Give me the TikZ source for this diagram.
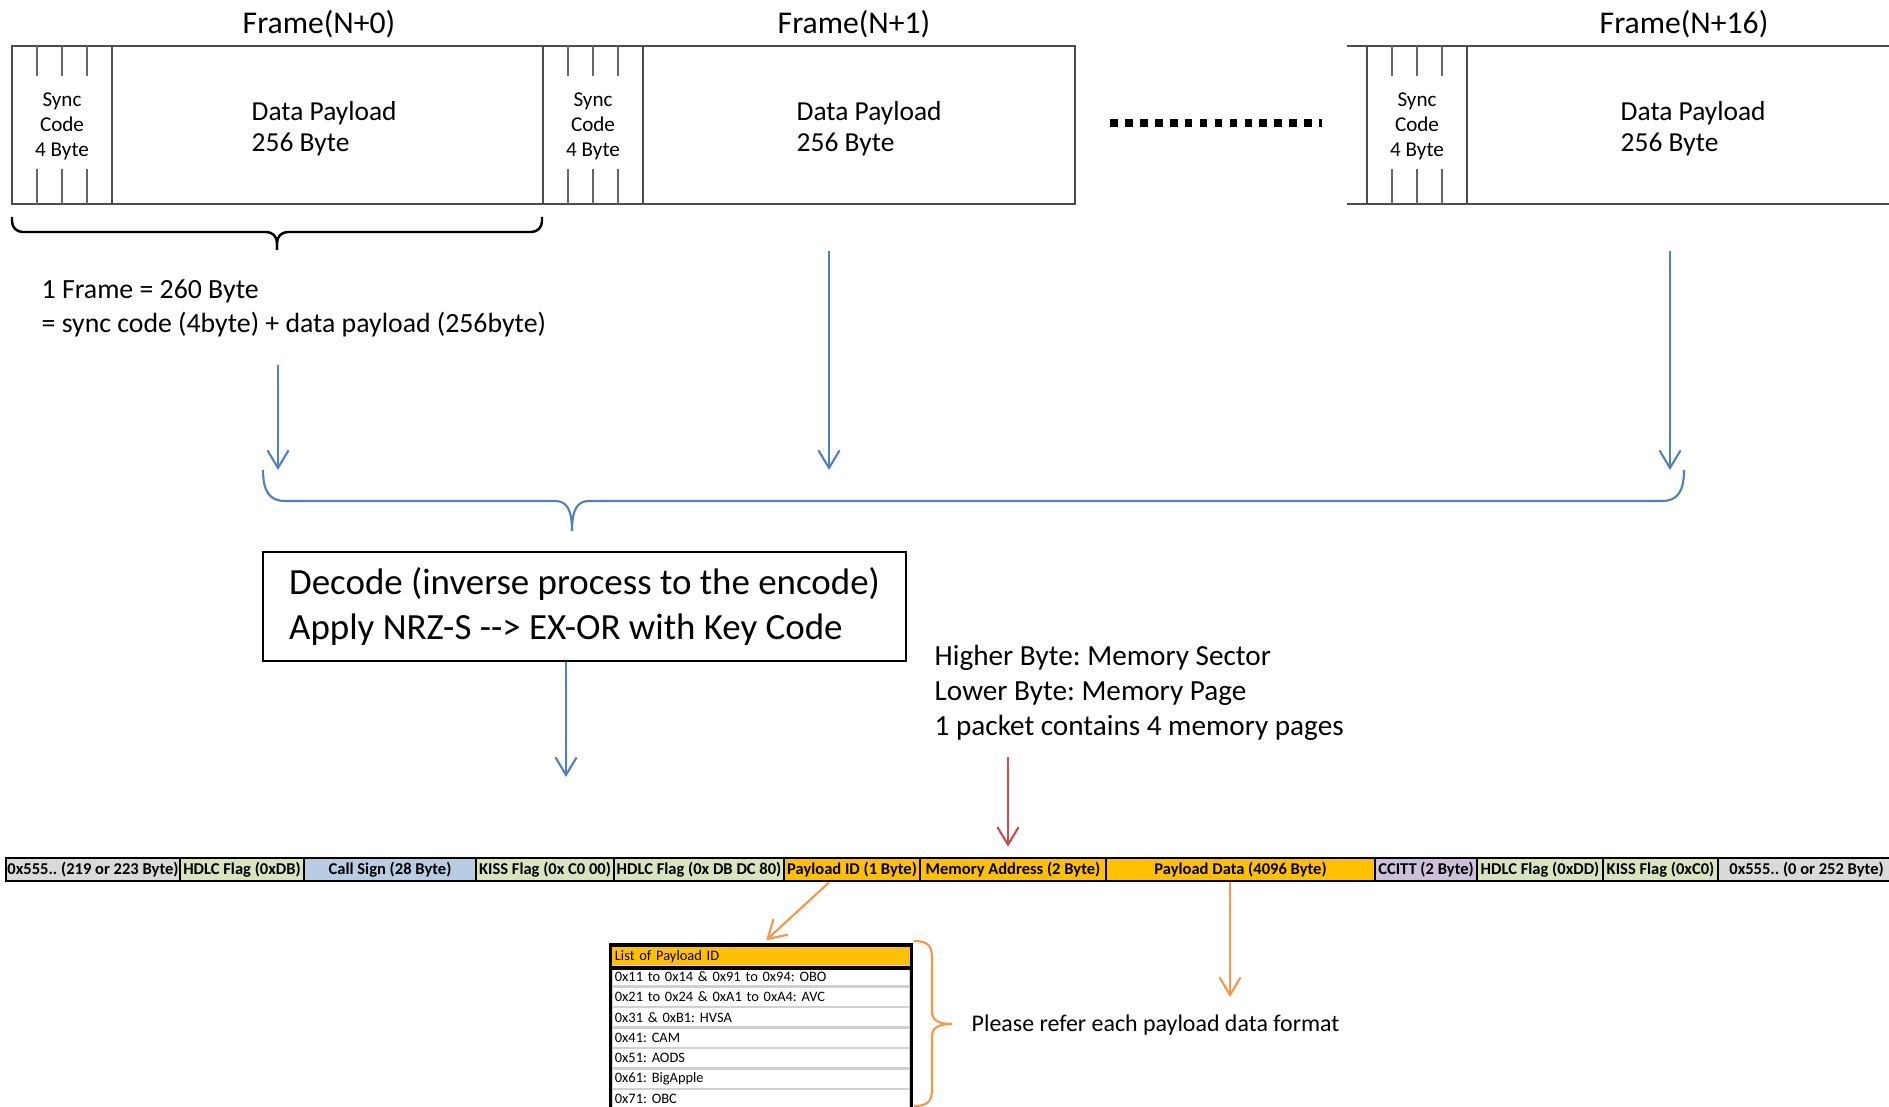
\documentclass[tikz,border=0pt]{standalone}
\usepackage{fontspec}
\setmainfont{Carlito}
\usetikzlibrary{arrows.meta}
\tikzset{>={Straight Barb[length=5pt,width=6pt]}}
\definecolor{cgray}{gray}{.85}
\definecolor{cgrn}{HTML}{D8E4BC}
\definecolor{cblu}{HTML}{B8CCE4}
\definecolor{cgold}{HTML}{FFC000}
\definecolor{cpur}{HTML}{CCC0DA}
\definecolor{carr}{HTML}{4F81BD}
\definecolor{cred}{HTML}{C0504D}
\definecolor{corg}{HTML}{F79646}
\newcommand*{\fs}[2]{\fontsize{#1}{#2}\selectfont}
\frenchspacing

\begin{document}
\begin{tikzpicture}[x=0.01cm, y=-0.01cm,
    frm/.style={draw=black!70, line width=0.45pt},
    tick/.style={draw=black!60, line width=0.4pt},
    txt/.style={inner sep=0pt},
    blu/.style={draw=carr, line width=0.6pt},
    cell/.style={draw, line width=0.8pt, minimum height=0.23cm, inner sep=0pt, font=\bfseries\fs{4.7}{5}},
    pidrow/.style={draw=black!18, line width=0.7pt, text width=2.92cm, inner xsep=0.03cm, inner ysep=0pt, minimum height=0.205cm, align=left, font=\fs{4.1}{5}}]
    \useasboundingbox (0,0) rectangle (1889,1107);
    \clip (0,0) rectangle (1889,1107);

    % frames
    \node (fr0) at (319,24) {\fs{9}{10}Frame(N+0)};
    \node (fr1) at (854,24) {\fs{9}{10}Frame(N+1)};
    \node (fr16) at (1684,24) {\fs{9}{10}Frame(N+16)};
    \draw[frm] (12,46) rectangle (1075,204);
    \draw[frm] (112,46) -- (112,204) (543,46) -- (543,204) (643,46) -- (643,204);
    \draw[frm] (1347,46) -- (1889,46) (1347,204) -- (1889,204) (1367,46) -- (1367,204) (1467,46) -- (1467,204);
    \foreach \x in {12, 543, 1367}
        \foreach \d in {25, 50, 75}
            \draw[tick] (\x+\d,46) -- (\x+\d,76) (\x+\d,169) -- (\x+\d,204);
    \foreach \x/\n/\p in {12/0/251, 543/1/796, 1367/16/1620} {
        \node[txt, align=center, font=\fs{6}{7.1}] (sync\n) at (\x+50,126) {Sync\\Code\\4 Byte};
        \node[txt, anchor=west, align=left, font=\fs{7.8}{8.9}] (data\n) at (\p,129) {Data Payload\\256 Byte};
    }
    \draw[line width=2.2pt, dash pattern=on 2.2pt off 2.05pt] (1110,123) -- (1322,123);

    % one frame
    \draw[line width=0.7pt, rounded corners=3pt] (12,217) -- (12,232) -- (277,232) -- (277,250);
    \draw[line width=0.7pt, rounded corners=3pt] (542,217) -- (542,232) -- (277,232) -- (277,250);
    \node[txt, anchor=west, align=left, font=\fs{7.9}{9.7}] (fsize) at (41,308)
        {1 Frame = 260 Byte\\= sync code (4byte) + data payload (256byte)};

    \coordinate (a0) at (278,365);
    \coordinate (a1) at (829,251);
    \coordinate (a2) at (1670,251);
    \coordinate (br0) at (263,470);
    \coordinate (br1) at (1684,470);
    \coordinate (brt) at (572,531);
    \foreach \a in {a0, a1, a2}
        \draw[blu, ->] (\a) -- (\a |- br0);
    \draw[blu] (br0) .. controls (263,492) and (270,501) .. (285,501) -- (555,501)
        .. controls (567,501) and (572,510) .. (brt);
    \draw[blu] (br1) .. controls (1684,492) and (1677,501) .. (1662,501) -- (589,501)
        .. controls (577,501) and (572,510) .. (brt);

    % decode
    \node[draw, line width=0.45pt, align=left, minimum width=182.9pt, minimum height=31pt,
        font=\fs{10.5}{13}] (decode) at (584.5,606.5)
        {Decode (inverse process to the encode)\\Apply NRZ-S \mbox{-}\mbox{-}> EX-OR with Key Code};
    \coordinate (dout) at (566,777);
    \draw[blu, ->] (decode.south -| dout) -- (dout);

    \node[txt, anchor=west, align=left, font=\fs{8.3}{10}] (memnote) at (934,693)
        {Higher Byte: Memory Sector\\Lower Byte: Memory Page\\1 packet contains 4 memory pages};

    % packet
    \foreach \l/\r/\col/\t [count=\i] in {
        6/180/cgray/{0x555.. (219 or 223 Byte)},
        180/304/cgrn/{HDLC Flag (0xDB)},
        304/476/cblu/{Call Sign (28 Byte)},
        476/614/cgrn/{KISS Flag (0x C0 00)},
        614/784/cgrn/{HDLC Flag (0x DB DC 80)},
        784/920/cgold/{Payload ID (1 Byte)},
        920/1106/cgold/{Memory Address (2 Byte)},
        1106/1375/cgold/{Payload Data (4096 Byte)},
        1375/1477/cpur/{CCITT (2 Byte)},
        1477/1603/cgrn/{HDLC Flag (0xDD)},
        1603/1718/cgrn/{KISS Flag (0xC0)},
        1718/1895/cgray/{0x555.. (0 or 252 Byte)}}
        \node[cell, fill=\col, minimum width={(\r-\l)*0.01cm}] (c\i) at ({(\l+\r)/2},869.5) {\t};

    \coordinate (mtop) at (1008,757);
    \draw[draw=cred, line width=0.6pt, ->, shorten >=2.8pt] (mtop) -- (mtop |- c7.north);

    % payload id list
    \node[pidrow, draw=none, fill=cgold] (plist) at (761,956.5) {List of Payload ID};
    \foreach \t [count=\i] in {
        0x11 to 0x14 \& 0x91 to 0x94: OBO,
        0x21 to 0x24 \& 0xA1 to 0xA4: AVC,
        0x31 \& 0xB1: HVSA,
        0x41: CAM,
        0x51: AODS,
        0x61: BigApple,
        0x71: OBC}
        \node[pidrow] (pid\i) at (761,{955.75+20.5*\i}) {\t};
    \draw[line width=0.9pt] (plist.south west) -- (plist.north west) -- (plist.north east) -- (plist.south east) -- cycle;
    \draw[line width=0.9pt] (plist.south west) -- (pid7.south west) (plist.south east) -- (pid7.south east);

    \draw[draw=corg, line width=0.6pt, ->, shorten >=2pt] ([xshift=-0.23cm]c6.south) -- (plist.north);
    \coordinate (pdend) at (1230,997);
    \draw[draw=corg, line width=0.6pt, ->] (c8.south -| pdend) -- (pdend);

    \coordinate (ob0) at (914,941);
    \coordinate (ob1) at (914,1106);
    \coordinate (obt) at (952,1024);
    \draw[draw=corg, line width=0.6pt] (ob0) .. controls (928,941) and (932,946) .. (932,958) -- (932,1012)
        .. controls (932,1020) and (938,1024) .. (obt);
    \draw[draw=corg, line width=0.6pt] (ob1) .. controls (928,1106) and (932,1101) .. (932,1089) -- (932,1036)
        .. controls (932,1028) and (938,1024) .. (obt);
    \node[txt, anchor=west, font=\fs{6.8}{8}] (refnote) at (971,1025) {Please refer each payload data format};
\end{tikzpicture}
\end{document}
